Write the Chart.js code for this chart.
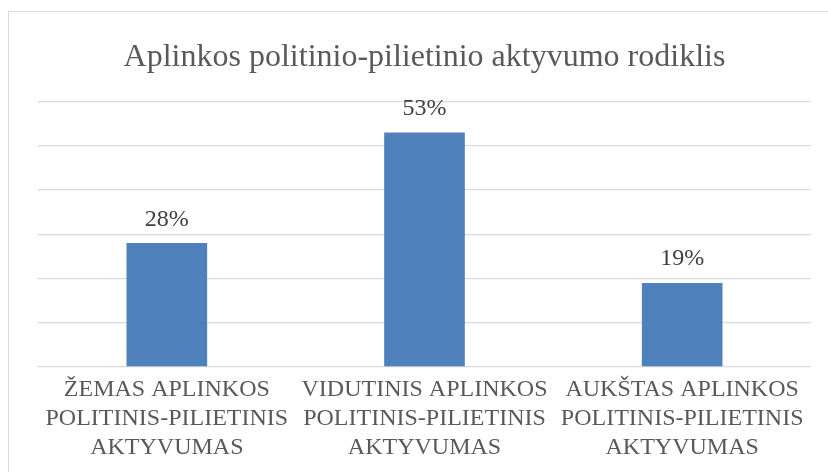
<!DOCTYPE html>
<html>
<head>
<meta charset="utf-8">
<script src="https://cdn.jsdelivr.net/npm/chart.js@4/dist/chart.umd.min.js"></script>
<style>
  html, body { margin: 0; padding: 0; background: #fff; }
  #wrap { position: relative; width: 828px; height: 472px; overflow: hidden; }
  #frame { position: absolute; left: 8px; top: 11px; width: 900px; height: 600px; border: 1px solid #d9d9d9; box-sizing: border-box; }
  #chart { position: absolute; left: 0; top: 0; }
</style>
</head>
<body>
<div id="wrap">
  <div id="frame"></div>
  <canvas id="chart" width="828" height="472"></canvas>
</div>
<script>
const chartTitle = "Aplinkos politinio-pilietinio aktyvumo rodiklis";
const categories = [
  ["ŽEMAS APLINKOS", "POLITINIS-PILIETINIS", "AKTYVUMAS"],
  ["VIDUTINIS APLINKOS", "POLITINIS-PILIETINIS", "AKTYVUMAS"],
  ["AUKŠTAS APLINKOS", "POLITINIS-PILIETINIS", "AKTYVUMAS"]
];
const values = [28, 53, 19];

const serif = "'Liberation Serif', 'Times New Roman', serif";

// value labels above each bar
const barLabels = {
  id: "barLabels",
  afterDatasetsDraw(chart) {
    const ctx = chart.ctx;
    const meta = chart.getDatasetMeta(0);
    ctx.save();
    ctx.font = "24px " + serif;
    ctx.fillStyle = "#404040";
    ctx.textAlign = "center";
    ctx.textBaseline = "alphabetic";
    meta.data.forEach((bar, i) => {
      ctx.fillText(values[i] + "%", bar.x, bar.y - 17.5);
    });
    ctx.restore();
  }
};

new Chart(document.getElementById("chart"), {
  type: "bar",
  data: {
    labels: categories,
    datasets: [{
      data: values,
      backgroundColor: "#4f81bd",
      borderWidth: 0,
      categoryPercentage: 1,
      barPercentage: 0.313
    }]
  },
  options: {
    responsive: false,
    animation: false,
    layout: { padding: { left: 38, right: 17, top: 0, bottom: 0 } },
    plugins: {
      legend: { display: false },
      tooltip: { enabled: false },
      title: {
        display: true,
        text: chartTitle,
        color: "#595959",
        font: { family: serif, size: 32, weight: "normal" },
        padding: { top: 38, bottom: 25 }
      }
    },
    scales: {
      x: {
        grid: { display: false },
        border: { display: false },
        ticks: {
          color: "#595959",
          font: { family: serif, size: 24, lineHeight: 1.22 },
          padding: 0,
          maxRotation: 0,
          autoSkip: false
        },
        // keep the plot bottom where the reference has it
        afterFit(scale) { scale.height = 105; }
      },
      y: {
        min: 0,
        max: 60,
        ticks: { display: false, stepSize: 10 },
        grid: { color: "#d9d9d9", lineWidth: 1.3, drawTicks: false },
        border: { display: false }
      }
    }
  },
  plugins: [barLabels]
});
</script>
</body>
</html>
